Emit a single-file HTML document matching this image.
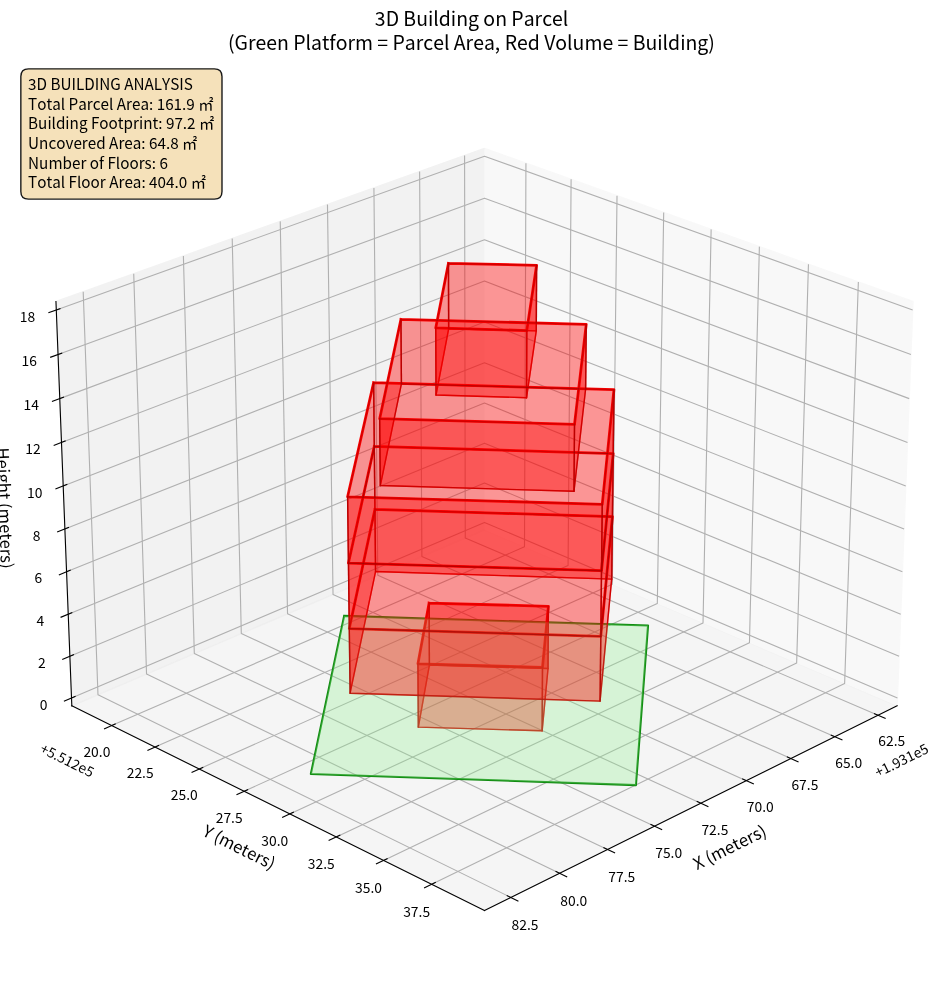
<!DOCTYPE html>
<html lang="en">
<head>
<meta charset="utf-8">
<title>3D Building on Parcel</title>
<style>
html,body{margin:0;padding:0;background:#ffffff;}
body{width:944px;height:992px;overflow:hidden;}
svg{display:block;will-change:transform;}
svg text{font-family:"Noto Sans CJK JP","Liberation Sans",sans-serif;fill:#000000;white-space:pre;font-kerning:none;font-variant-ligatures:none;}
</style>
</head>
<body>
<svg width="944" height="992" viewBox="0 0 679.68 714.24">
 <defs>
  <style type="text/css">*{stroke-linejoin: round; stroke-linecap: butt}</style>
 </defs>
 <g id="figure_1">
  <g id="patch_1">
   <path d="M 0 714.24 L 679.68 714.24 L 679.68 0 L 0 0 z
" style="fill: #ffffff"/>
  </g>
  <g id="patch_2">
   <path d="M 7.2 707.04 L 672.48 707.04 L 672.48 41.76 L 7.2 41.76 z
" style="fill: #ffffff"/>
  </g>
  <g id="pane3d_1">
   <g id="patch_3">
    <path d="M 348.83027 381.448424 L 645.942828 508.214589 L 657.369594 217.112684 L 348.83027 106.825698" style="fill: #f2f2f2; opacity: 0.5; stroke: #f2f2f2; stroke-linejoin: miter"/>
   </g>
  </g>
  <g id="pane3d_2">
   <g id="patch_4">
    <path d="M 348.83027 381.448424 L 51.717712 508.214589 L 40.290947 217.112684 L 348.83027 106.825698" style="fill: #e6e6e6; opacity: 0.5; stroke: #e6e6e6; stroke-linejoin: miter"/>
   </g>
  </g>
  <g id="pane3d_3">
   <g id="patch_5">
    <path d="M 348.83027 381.448424 L 51.717712 508.214589 L 348.83027 655.501782 L 645.942828 508.214589" style="fill: #ececec; opacity: 0.5; stroke: #ececec; stroke-linejoin: miter"/>
   </g>
  </g>
  <g id="grid3d_1">
   <g id="Line3DCollection_1">
    <path d="M 632.178776 515.037823 L 334.992223 387.352571 L 334.496634 111.949238" style="fill: none; stroke: #b0b0b0; stroke-width: 0.8"/>
    <path d="M 601.079953 530.454399 L 303.752812 400.681191 L 302.125308 123.520327" style="fill: none; stroke: #b0b0b0; stroke-width: 0.8"/>
    <path d="M 569.451689 546.133435 L 272.019331 414.22061 L 269.223375 135.281081" style="fill: none; stroke: #b0b0b0; stroke-width: 0.8"/>
    <path d="M 537.280346 562.081689 L 239.779968 427.97587 L 235.777681 147.236201" style="fill: none; stroke: #b0b0b0; stroke-width: 0.8"/>
    <path d="M 504.551816 578.306158 L 207.022527 441.952173 L 201.774634 159.390547" style="fill: none; stroke: #b0b0b0; stroke-width: 0.8"/>
    <path d="M 471.251498 594.814078 L 173.73442 456.154891 L 167.200186 171.749139" style="fill: none; stroke: #b0b0b0; stroke-width: 0.8"/>
    <path d="M 437.364274 611.612944 L 139.902646 470.589569 L 132.039812 184.31717" style="fill: none; stroke: #b0b0b0; stroke-width: 0.8"/>
    <path d="M 402.874492 628.710516 L 105.513776 485.261938 L 96.278488 197.100009" style="fill: none; stroke: #b0b0b0; stroke-width: 0.8"/>
    <path d="M 367.765935 646.114831 L 70.553936 500.177918 L 59.900677 210.103211" style="fill: none; stroke: #b0b0b0; stroke-width: 0.8"/>
   </g>
  </g>
  <g id="grid3d_2">
   <g id="Line3DCollection_2">
    <path d="M 378.672432 117.492741 L 377.636754 393.73901 L 80.37826 522.422442" style="fill: none; stroke: #b0b0b0; stroke-width: 0.8"/>
    <path d="M 411.195186 129.117957 L 409.013807 407.126356 L 111.63185 537.915741" style="fill: none; stroke: #b0b0b0; stroke-width: 0.8"/>
    <path d="M 444.251447 140.933875 L 440.887428 420.725568 L 143.418015 553.673052" style="fill: none; stroke: #b0b0b0; stroke-width: 0.8"/>
    <path d="M 477.854453 152.945227 L 473.269498 434.541716 L 175.750487 569.701183" style="fill: none; stroke: #b0b0b0; stroke-width: 0.8"/>
    <path d="M 512.017881 165.1569 L 506.172283 448.580031 L 208.64347 586.007176" style="fill: none; stroke: #b0b0b0; stroke-width: 0.8"/>
    <path d="M 546.755869 177.573949 L 539.608443 462.845917 L 242.111668 602.598319" style="fill: none; stroke: #b0b0b0; stroke-width: 0.8"/>
    <path d="M 582.083034 190.201599 L 573.591054 477.344951 L 276.170303 619.482158" style="fill: none; stroke: #b0b0b0; stroke-width: 0.8"/>
    <path d="M 618.014493 203.045253 L 608.133623 492.082898 L 310.835138 636.666508" style="fill: none; stroke: #b0b0b0; stroke-width: 0.8"/>
   </g>
  </g>
  <g id="grid3d_3">
   <g id="Line3DCollection_3">
    <path d="M 51.497478 502.604015 L 348.83027 376.141555 L 646.163063 502.604015" style="fill: none; stroke: #b0b0b0; stroke-width: 0.8"/>
    <path d="M 50.317357 472.539917 L 348.83027 347.71419 L 647.343184 472.539917" style="fill: none; stroke: #b0b0b0; stroke-width: 0.8"/>
    <path d="M 49.127831 442.236218 L 348.83027 319.076178 L 648.53271 442.236218" style="fill: none; stroke: #b0b0b0; stroke-width: 0.8"/>
    <path d="M 47.928787 411.690042 L 348.83027 290.22517 L 649.731754 411.690042" style="fill: none; stroke: #b0b0b0; stroke-width: 0.8"/>
    <path d="M 46.72011 380.898468 L 348.83027 261.158781 L 650.94043 380.898468" style="fill: none; stroke: #b0b0b0; stroke-width: 0.8"/>
    <path d="M 45.501684 349.858525 L 348.83027 231.874589 L 652.158856 349.858525" style="fill: none; stroke: #b0b0b0; stroke-width: 0.8"/>
    <path d="M 44.27339 318.567197 L 348.83027 202.370137 L 653.38715 318.567197" style="fill: none; stroke: #b0b0b0; stroke-width: 0.8"/>
    <path d="M 43.035108 287.021417 L 348.83027 172.642932 L 654.625432 287.021417" style="fill: none; stroke: #b0b0b0; stroke-width: 0.8"/>
    <path d="M 41.786716 255.21807 L 348.83027 142.69044 L 655.873824 255.21807" style="fill: none; stroke: #b0b0b0; stroke-width: 0.8"/>
    <path d="M 40.528089 223.153987 L 348.83027 112.510091 L 657.132452 223.153987" style="fill: none; stroke: #b0b0b0; stroke-width: 0.8"/>
   </g>
  </g>
  <g id="axis3d_1">
   <g id="line2d_1">
    <path d="M 645.942828 508.214589 L 348.83027 655.501782" style="fill: none; stroke: #000000; stroke-width: 0.8; stroke-linecap: square"/>
   </g>
   <g id="xtick_1">
    <g id="line2d_2">
     <path d="M 629.624126 513.940226 L 637.297303 517.236982" style="fill: none; stroke: #000000; stroke-width: 0.8; stroke-linecap: square"/>
    </g>
    <g id="text_1">
     <text transform="translate(632.394 537.366)" font-size="10px">62.5</text>
    </g>
   </g>
   <g id="xtick_2">
    <g id="line2d_3">
     <path d="M 598.5226 529.338201 L 606.203976 532.690861" style="fill: none; stroke: #000000; stroke-width: 0.8; stroke-linecap: square"/>
    </g>
    <g id="text_2">
     <text transform="translate(601.342 552.919)" font-size="10px">65.0</text>
    </g>
   </g>
   <g id="xtick_3">
    <g id="line2d_4">
     <path d="M 566.89191 544.998159 L 574.580651 548.408157" style="fill: none; stroke: #000000; stroke-width: 0.8; stroke-linecap: square"/>
    </g>
    <g id="text_3">
     <text transform="translate(569.806 568.738)" font-size="10px">67.5</text>
    </g>
   </g>
   <g id="xtick_4">
    <g id="line2d_5">
     <path d="M 534.718434 560.926843 L 542.413663 564.395662" style="fill: none; stroke: #000000; stroke-width: 0.8; stroke-linecap: square"/>
    </g>
    <g id="text_4">
     <text transform="translate(537.682 584.829)" font-size="10px">70.0</text>
    </g>
   </g>
   <g id="xtick_5">
    <g id="line2d_6">
     <path d="M 501.98808 577.131229 L 509.688869 580.660405" style="fill: none; stroke: #000000; stroke-width: 0.8; stroke-linecap: square"/>
    </g>
    <g id="text_5">
     <text transform="translate(505.001 601.199)" font-size="10px">72.5</text>
    </g>
   </g>
   <g id="xtick_6">
    <g id="line2d_7">
     <path d="M 468.686265 593.61854 L 476.391633 597.209662" style="fill: none; stroke: #000000; stroke-width: 0.8; stroke-linecap: square"/>
    </g>
    <g id="text_6">
     <text transform="translate(471.749 617.855)" font-size="10px">75.0</text>
    </g>
   </g>
   <g id="xtick_7">
    <g id="line2d_8">
     <path d="M 434.79789 610.396249 L 442.506803 614.050962" style="fill: none; stroke: #000000; stroke-width: 0.8; stroke-linecap: square"/>
    </g>
    <g id="text_7">
     <text transform="translate(437.954 634.805)" font-size="10px">77.5</text>
    </g>
   </g>
   <g id="xtick_8">
    <g id="line2d_9">
     <path d="M 400.30732 627.472097 L 408.018686 631.192105" style="fill: none; stroke: #000000; stroke-width: 0.8; stroke-linecap: square"/>
    </g>
    <g id="text_8">
     <text transform="translate(403.422 652.057)" font-size="10px">80.0</text>
    </g>
   </g>
   <g id="xtick_9">
    <g id="line2d_10">
     <path d="M 365.19836 644.854102 L 372.911025 648.641171" style="fill: none; stroke: #000000; stroke-width: 0.8; stroke-linecap: square"/>
    </g>
    <g id="text_9">
     <text transform="translate(368.361 669.619)" font-size="10px">82.5</text>
    </g>
   </g>
   <g id="text_10">
    <text transform="translate(632.116 559.985) rotate(-26.3689)" font-size="10px">+1.931e5</text>
   </g>
   <g id="text_11">
    <text transform="translate(501.896 626.548) rotate(-26.3689)" font-size="12px">X (meters)</text>
   </g>
  </g>
  <g id="axis3d_2">
   <g id="line2d_11">
    <path d="M 51.717712 508.214589 L 348.83027 655.501782" style="fill: none; stroke: #000000; stroke-width: 0.8; stroke-linecap: square"/>
   </g>
   <g id="xtick_10">
    <g id="line2d_12">
     <path d="M 82.934244 521.315955 L 75.257022 524.63943" style="fill: none; stroke: #000000; stroke-width: 0.8; stroke-linecap: square"/>
    </g>
    <g id="text_12">
     <text transform="translate(60.035 544.816)" font-size="10px">20.0</text>
    </g>
   </g>
   <g id="xtick_11">
    <g id="line2d_13">
     <path d="M 114.190398 536.790484 L 106.505395 540.170369" style="fill: none; stroke: #000000; stroke-width: 0.8; stroke-linecap: square"/>
    </g>
    <g id="text_13">
     <text transform="translate(91.241 560.447)" font-size="10px">22.5</text>
    </g>
   </g>
   <g id="xtick_12">
    <g id="line2d_14">
     <path d="M 145.978845 552.528545 L 138.28691 555.966288" style="fill: none; stroke: #000000; stroke-width: 0.8; stroke-linecap: square"/>
    </g>
    <g id="text_14">
     <text transform="translate(122.980 576.345)" font-size="10px">25.0</text>
    </g>
   </g>
   <g id="xtick_13">
    <g id="line2d_15">
     <path d="M 178.313299 568.536927 L 170.615328 572.034026" style="fill: none; stroke: #000000; stroke-width: 0.8; stroke-linecap: square"/>
    </g>
    <g id="text_15">
     <text transform="translate(155.310 592.517)" font-size="10px">27.5</text>
    </g>
   </g>
   <g id="xtick_14">
    <g id="line2d_16">
     <path d="M 211.207949 584.822655 L 203.504889 588.380662" style="fill: none; stroke: #000000; stroke-width: 0.8; stroke-linecap: square"/>
    </g>
    <g id="text_16">
     <text transform="translate(188.156 608.969)" font-size="10px">30.0</text>
    </g>
   </g>
   <g id="xtick_15">
    <g id="line2d_17">
     <path d="M 244.677481 601.393 L 236.970331 605.013519" style="fill: none; stroke: #000000; stroke-width: 0.8; stroke-linecap: square"/>
    </g>
    <g id="text_17">
     <text transform="translate(221.576 625.709)" font-size="10px">32.5</text>
    </g>
   </g>
   <g id="xtick_16">
    <g id="line2d_18">
     <path d="M 278.737098 618.255488 L 271.026911 621.940182" style="fill: none; stroke: #000000; stroke-width: 0.8; stroke-linecap: square"/>
    </g>
    <g id="text_18">
     <text transform="translate(255.588 642.746)" font-size="10px">35.0</text>
    </g>
   </g>
   <g id="xtick_17">
    <g id="line2d_19">
     <path d="M 313.402543 635.417915 L 305.690434 639.168505" style="fill: none; stroke: #000000; stroke-width: 0.8; stroke-linecap: square"/>
    </g>
    <g id="text_19">
     <text transform="translate(290.250 660.085)" font-size="10px">37.5</text>
    </g>
   </g>
   <g id="text_20">
    <text transform="translate(28.130 541.437) rotate(-333.6311)" font-size="10px">+5.512e5</text>
   </g>
   <g id="text_21">
    <text transform="translate(145.004 601.384) rotate(-333.6311)" font-size="12px">Y (meters)</text>
   </g>
  </g>
  <g id="axis3d_3">
   <g id="line2d_20">
    <path d="M 51.717712 508.214589 L 40.290947 217.112684" style="fill: none; stroke: #000000; stroke-width: 0.8; stroke-linecap: square"/>
   </g>
   <g id="xtick_18">
    <g id="line2d_21">
     <path d="M 54.052854 501.517155 L 46.377523 504.781649" style="fill: none; stroke: #000000; stroke-width: 0.8; stroke-linecap: square"/>
    </g>
    <g id="text_22">
     <text transform="translate(28.683 511.028)" font-size="10px">0</text>
    </g>
   </g>
   <g id="xtick_19">
    <g id="line2d_22">
     <path d="M 52.883579 471.466829 L 45.175635 474.689972" style="fill: none; stroke: #000000; stroke-width: 0.8; stroke-linecap: square"/>
    </g>
    <g id="text_23">
     <text transform="translate(27.425 480.964)" font-size="10px">2</text>
    </g>
   </g>
   <g id="xtick_20">
    <g id="line2d_23">
     <path d="M 51.704991 441.177157 L 43.964156 444.358184" style="fill: none; stroke: #000000; stroke-width: 0.8; stroke-linecap: square"/>
    </g>
    <g id="text_24">
     <text transform="translate(26.201 450.660)" font-size="10px">4</text>
    </g>
   </g>
   <g id="xtick_21">
    <g id="line2d_24">
     <path d="M 50.516979 410.645267 L 42.742971 413.7834" style="fill: none; stroke: #000000; stroke-width: 0.8; stroke-linecap: square"/>
    </g>
    <g id="text_25">
     <text transform="translate(24.878 420.114)" font-size="10px">6</text>
    </g>
   </g>
   <g id="xtick_22">
    <g id="line2d_25">
     <path d="M 49.319428 379.868243 L 41.511964 382.962687" style="fill: none; stroke: #000000; stroke-width: 0.8; stroke-linecap: square"/>
    </g>
    <g id="text_26">
     <text transform="translate(23.589 389.322)" font-size="10px">8</text>
    </g>
   </g>
   <g id="xtick_23">
    <g id="line2d_26">
     <path d="M 48.112223 348.843119 L 40.271016 351.893067" style="fill: none; stroke: #000000; stroke-width: 0.8; stroke-linecap: square"/>
    </g>
    <g id="text_27">
     <text transform="translate(19.499 358.283)" font-size="10px">10</text>
    </g>
   </g>
   <g id="xtick_24">
    <g id="line2d_27">
     <path d="M 46.895248 317.566884 L 39.020004 320.571512" style="fill: none; stroke: #000000; stroke-width: 0.8; stroke-linecap: square"/>
    </g>
    <g id="text_28">
     <text transform="translate(18.189 326.991)" font-size="10px">12</text>
    </g>
   </g>
   <g id="xtick_25">
    <g id="line2d_28">
     <path d="M 45.668382 286.036477 L 37.758808 288.994945" style="fill: none; stroke: #000000; stroke-width: 0.8; stroke-linecap: square"/>
    </g>
    <g id="text_29">
     <text transform="translate(16.914 295.445)" font-size="10px">14</text>
    </g>
   </g>
   <g id="xtick_26">
    <g id="line2d_29">
     <path d="M 44.431506 254.248787 L 36.487301 257.160239" style="fill: none; stroke: #000000; stroke-width: 0.8; stroke-linecap: square"/>
    </g>
    <g id="text_30">
     <text transform="translate(15.538 263.642)" font-size="10px">16</text>
    </g>
   </g>
   <g id="xtick_27">
    <g id="line2d_30">
     <path d="M 43.184495 222.200652 L 35.205357 225.064216" style="fill: none; stroke: #000000; stroke-width: 0.8; stroke-linecap: square"/>
    </g>
    <g id="text_31">
     <text transform="translate(14.196 231.578)" font-size="10px">18</text>
    </g>
   </g>
   <g id="text_32">
    <text transform="translate(-2.600 322.383) rotate(-272.2479)" font-size="12px">Height (meters)</text>
   </g>
  </g>
  <g id="axes_1">
   <g id="line2d_31">
    <path d="M 247.77924 443.458365 L 466.586819 450.407908 L 457.856153 565.292145 L 223.796916 557.281267 L 247.77924 443.458365" clip-path="url(#p9a612d91c3)" style="fill: none; stroke: #128c12; stroke-width: 1.5; stroke-linecap: square"/>
   </g>
   <g id="line2d_32">
    <path d="M 308.937394 434.182432 L 394.846916 436.552592 L 390.59386 480.549624 L 300.919672 477.938487 L 308.937394 434.182432" clip-path="url(#p9a612d91c3)" style="fill: none; stroke: #ff0000; stroke-width: 2; stroke-linecap: square"/>
   </g>
   <g id="line2d_33">
    <path d="M 309.17087 478.914165 L 394.577237 481.330813 L 390.342983 526.183823 L 301.207058 523.522254 L 309.17087 478.914165" clip-path="url(#p9a612d91c3)" style="fill: none; stroke: #ff0000; stroke-linecap: square"/>
   </g>
   <g id="line2d_34">
    <path d="M 309.17087 478.914165 L 308.937394 434.182432" clip-path="url(#p9a612d91c3)" style="fill: none; stroke: #ff0000; stroke-linecap: square"/>
   </g>
   <g id="line2d_35">
    <path d="M 394.577237 481.330813 L 394.846916 436.552592" clip-path="url(#p9a612d91c3)" style="fill: none; stroke: #ff0000; stroke-linecap: square"/>
   </g>
   <g id="line2d_36">
    <path d="M 390.342983 526.183823 L 390.59386 480.549624" clip-path="url(#p9a612d91c3)" style="fill: none; stroke: #ff0000; stroke-linecap: square"/>
   </g>
   <g id="line2d_37">
    <path d="M 301.207058 523.522254 L 300.919672 477.938487" clip-path="url(#p9a612d91c3)" style="fill: none; stroke: #ff0000; stroke-linecap: square"/>
   </g>
   <g id="line2d_38">
    <path d="M 269.945938 366.717869 L 440.949953 372.024265 L 432.565891 458.157274 L 251.485466 452.539488 L 269.945938 366.717869" clip-path="url(#p9a612d91c3)" style="fill: none; stroke: #ff0000; stroke-width: 2; stroke-linecap: square"/>
   </g>
   <g id="line2d_39">
    <path d="M 270.404303 411.520837 L 440.413 416.937142 L 432.052989 504.826361 L 252.079846 499.095628 L 270.404303 411.520837" clip-path="url(#p9a612d91c3)" style="fill: none; stroke: #ff0000; stroke-linecap: square"/>
   </g>
   <g id="line2d_40">
    <path d="M 270.404303 411.520837 L 269.945938 366.717869" clip-path="url(#p9a612d91c3)" style="fill: none; stroke: #ff0000; stroke-linecap: square"/>
   </g>
   <g id="line2d_41">
    <path d="M 440.413 416.937142 L 440.949953 372.024265" clip-path="url(#p9a612d91c3)" style="fill: none; stroke: #ff0000; stroke-linecap: square"/>
   </g>
   <g id="line2d_42">
    <path d="M 432.052989 504.826361 L 432.565891 458.157274" clip-path="url(#p9a612d91c3)" style="fill: none; stroke: #ff0000; stroke-linecap: square"/>
   </g>
   <g id="line2d_43">
    <path d="M 252.079846 499.095628 L 251.485466 452.539488" clip-path="url(#p9a612d91c3)" style="fill: none; stroke: #ff0000; stroke-linecap: square"/>
   </g>
   <g id="line2d_44">
    <path d="M 269.482184 321.388115 L 441.493238 326.58163 L 433.085154 410.909377 L 250.883738 405.407782 L 269.482184 321.388115" clip-path="url(#p9a612d91c3)" style="fill: none; stroke: #ff0000; stroke-width: 2; stroke-linecap: square"/>
   </g>
   <g id="line2d_45">
    <path d="M 269.945938 366.717869 L 440.949953 372.024265 L 432.565891 458.157274 L 251.485466 452.539488 L 269.945938 366.717869" clip-path="url(#p9a612d91c3)" style="fill: none; stroke: #ff0000; stroke-linecap: square"/>
   </g>
   <g id="line2d_46">
    <path d="M 269.945938 366.717869 L 269.482184 321.388115" clip-path="url(#p9a612d91c3)" style="fill: none; stroke: #ff0000; stroke-linecap: square"/>
   </g>
   <g id="line2d_47">
    <path d="M 440.949953 372.024265 L 441.493238 326.58163" clip-path="url(#p9a612d91c3)" style="fill: none; stroke: #ff0000; stroke-linecap: square"/>
   </g>
   <g id="line2d_48">
    <path d="M 432.565891 458.157274 L 433.085154 410.909377" clip-path="url(#p9a612d91c3)" style="fill: none; stroke: #ff0000; stroke-linecap: square"/>
   </g>
   <g id="line2d_49">
    <path d="M 251.485466 452.539488 L 250.883738 405.407782" clip-path="url(#p9a612d91c3)" style="fill: none; stroke: #ff0000; stroke-linecap: square"/>
   </g>
   <g id="line2d_50">
    <path d="M 269.012945 275.52223 L 442.04297 280.599809 L 433.610897 363.071834 L 250.274524 357.689772 L 269.012945 275.52223" clip-path="url(#p9a612d91c3)" style="fill: none; stroke: #ff0000; stroke-width: 2; stroke-linecap: square"/>
   </g>
   <g id="line2d_51">
    <path d="M 269.482184 321.388115 L 441.493238 326.58163 L 433.085154 410.909377 L 250.883738 405.407782 L 269.482184 321.388115" clip-path="url(#p9a612d91c3)" style="fill: none; stroke: #ff0000; stroke-linecap: square"/>
   </g>
   <g id="line2d_52">
    <path d="M 269.482184 321.388115 L 269.012945 275.52223" clip-path="url(#p9a612d91c3)" style="fill: none; stroke: #ff0000; stroke-linecap: square"/>
   </g>
   <g id="line2d_53">
    <path d="M 441.493238 326.58163 L 442.04297 280.599809" clip-path="url(#p9a612d91c3)" style="fill: none; stroke: #ff0000; stroke-linecap: square"/>
   </g>
   <g id="line2d_54">
    <path d="M 433.085154 410.909377 L 433.610897 363.071834" clip-path="url(#p9a612d91c3)" style="fill: none; stroke: #ff0000; stroke-linecap: square"/>
   </g>
   <g id="line2d_55">
    <path d="M 250.883738 405.407782 L 250.274524 357.689772" clip-path="url(#p9a612d91c3)" style="fill: none; stroke: #ff0000; stroke-linecap: square"/>
   </g>
   <g id="line2d_56">
    <path d="M 288.666962 229.922989 L 422.08244 233.563357 L 413.64961 305.516424 L 273.365436 301.473513 L 288.666962 229.922989" clip-path="url(#p9a612d91c3)" style="fill: none; stroke: #ff0000; stroke-width: 2; stroke-linecap: square"/>
   </g>
   <g id="line2d_57">
    <path d="M 289.022935 276.354094 L 421.648006 280.081879 L 413.247396 353.7414 L 273.832542 349.603685 L 289.022935 276.354094" clip-path="url(#p9a612d91c3)" style="fill: none; stroke: #ff0000; stroke-linecap: square"/>
   </g>
   <g id="line2d_58">
    <path d="M 289.022935 276.354094 L 288.666962 229.922989" clip-path="url(#p9a612d91c3)" style="fill: none; stroke: #ff0000; stroke-linecap: square"/>
   </g>
   <g id="line2d_59">
    <path d="M 421.648006 280.081879 L 422.08244 233.563357" clip-path="url(#p9a612d91c3)" style="fill: none; stroke: #ff0000; stroke-linecap: square"/>
   </g>
   <g id="line2d_60">
    <path d="M 413.247396 353.7414 L 413.64961 305.516424" clip-path="url(#p9a612d91c3)" style="fill: none; stroke: #ff0000; stroke-linecap: square"/>
   </g>
   <g id="line2d_61">
    <path d="M 273.832542 349.603685 L 273.365436 301.473513" clip-path="url(#p9a612d91c3)" style="fill: none; stroke: #ff0000; stroke-linecap: square"/>
   </g>
   <g id="line2d_62">
    <path d="M 322.879985 189.582995 L 386.346389 191.018372 L 379.296678 237.994141 L 313.72666 236.090138 L 322.879985 189.582995" clip-path="url(#p9a612d91c3)" style="fill: none; stroke: #ff0000; stroke-width: 2; stroke-linecap: square"/>
   </g>
   <g id="line2d_63">
    <path d="M 323.035124 236.738134 L 386.121893 238.209744 L 379.108703 286.362013 L 313.942982 284.410675 L 323.035124 236.738134" clip-path="url(#p9a612d91c3)" style="fill: none; stroke: #ff0000; stroke-linecap: square"/>
   </g>
   <g id="line2d_64">
    <path d="M 323.035124 236.738134 L 322.879985 189.582995" clip-path="url(#p9a612d91c3)" style="fill: none; stroke: #ff0000; stroke-linecap: square"/>
   </g>
   <g id="line2d_65">
    <path d="M 386.121893 238.209744 L 386.346389 191.018372" clip-path="url(#p9a612d91c3)" style="fill: none; stroke: #ff0000; stroke-linecap: square"/>
   </g>
   <g id="line2d_66">
    <path d="M 379.108703 286.362013 L 379.296678 237.994141" clip-path="url(#p9a612d91c3)" style="fill: none; stroke: #ff0000; stroke-linecap: square"/>
   </g>
   <g id="line2d_67">
    <path d="M 313.942982 284.410675 L 313.72666 236.090138" clip-path="url(#p9a612d91c3)" style="fill: none; stroke: #ff0000; stroke-linecap: square"/>
   </g>
   <g id="Poly3DCollection_1">
    <path d="M 309.17087 478.914165 L 394.577237 481.330813 L 394.846916 436.552592 L 308.937394 434.182432 z
" clip-path="url(#p9a612d91c3)" style="fill: #ff0000; fill-opacity: 0.4; stroke: #8b0000; stroke-opacity: 0.4"/>
    <path d="M 301.207058 523.522254 L 309.17087 478.914165 L 308.937394 434.182432 L 300.919672 477.938487 z
" clip-path="url(#p9a612d91c3)" style="fill: #ff0000; fill-opacity: 0.4; stroke: #8b0000; stroke-opacity: 0.4"/>
    <path d="M 394.577237 481.330813 L 390.342983 526.183823 L 390.59386 480.549624 L 394.846916 436.552592 z
" clip-path="url(#p9a612d91c3)" style="fill: #ff0000; fill-opacity: 0.4; stroke: #8b0000; stroke-opacity: 0.4"/>
    <path d="M 390.342983 526.183823 L 301.207058 523.522254 L 300.919672 477.938487 L 390.59386 480.549624 z
" clip-path="url(#p9a612d91c3)" style="fill: #ff0000; fill-opacity: 0.4; stroke: #8b0000; stroke-opacity: 0.4"/>
   </g>
   <g id="text_33">
    <g id="patch_6">
     <path d="M 20.506 143.366 L 154.336 143.366 Q 159.836 143.366 159.836 137.866 L 159.836 55.066 Q 159.836 49.566 154.336 49.566 L 20.506 49.566 Q 15.006 49.566 15.006 55.066 L 15.006 137.866 Q 15.006 143.366 20.506 143.366 z" style="fill: #f5deb3; opacity: 0.9; stroke: #000000; stroke-linejoin: miter"/>
    </g>
    <text transform="translate(20.218 64.930)" font-size="11px">3D BUILDING ANALYSIS</text>
    <text transform="translate(20.218 79.042)" font-size="11px">Total Parcel Area: 161.9 ㎡</text>
    <text transform="translate(20.218 93.154)" font-size="11px">Building Footprint: 97.2 ㎡</text>
    <text transform="translate(20.218 107.266)" font-size="11px">Uncovered Area: 64.8 ㎡</text>
    <text transform="translate(20.218 121.378)" font-size="11px">Number of Floors: 6</text>
    <text transform="translate(20.218 135.490)" font-size="11px">Total Floor Area: 404.0 ㎡</text>
   </g>
   <g id="text_34">
    <text transform="translate(269.892 18.705)" font-size="14px">3D Building on Parcel</text>
    <text transform="translate(164.142 36.264)" font-size="14px">(Green Platform = Parcel Area, Red Volume = Building)</text>
   </g>
   <g id="Poly3DCollection_2">
    <path d="M 247.77924 443.458365 L 466.586819 450.407908 L 457.856153 565.292145 L 223.796916 557.281267 z
" clip-path="url(#p9a612d91c3)" style="fill: #90ee90; fill-opacity: 0.3"/>
   </g>
   <g id="Poly3DCollection_3">
    <path d="M 270.404303 411.520837 L 440.413 416.937142 L 440.949953 372.024265 L 269.945938 366.717869 z
" clip-path="url(#p9a612d91c3)" style="fill: #ff0000; fill-opacity: 0.4; stroke: #8b0000; stroke-opacity: 0.4"/>
    <path d="M 252.079846 499.095628 L 270.404303 411.520837 L 269.945938 366.717869 L 251.485466 452.539488 z
" clip-path="url(#p9a612d91c3)" style="fill: #ff0000; fill-opacity: 0.4; stroke: #8b0000; stroke-opacity: 0.4"/>
    <path d="M 440.413 416.937142 L 432.052989 504.826361 L 432.565891 458.157274 L 440.949953 372.024265 z
" clip-path="url(#p9a612d91c3)" style="fill: #ff0000; fill-opacity: 0.4; stroke: #8b0000; stroke-opacity: 0.4"/>
    <path d="M 432.052989 504.826361 L 252.079846 499.095628 L 251.485466 452.539488 L 432.565891 458.157274 z
" clip-path="url(#p9a612d91c3)" style="fill: #ff0000; fill-opacity: 0.4; stroke: #8b0000; stroke-opacity: 0.4"/>
   </g>
   <g id="Poly3DCollection_4">
    <path d="M 269.945938 366.717869 L 440.949953 372.024265 L 441.493238 326.58163 L 269.482184 321.388115 z
" clip-path="url(#p9a612d91c3)" style="fill: #ff0000; fill-opacity: 0.4; stroke: #8b0000; stroke-opacity: 0.4"/>
    <path d="M 251.485466 452.539488 L 269.945938 366.717869 L 269.482184 321.388115 L 250.883738 405.407782 z
" clip-path="url(#p9a612d91c3)" style="fill: #ff0000; fill-opacity: 0.4; stroke: #8b0000; stroke-opacity: 0.4"/>
    <path d="M 440.949953 372.024265 L 432.565891 458.157274 L 433.085154 410.909377 L 441.493238 326.58163 z
" clip-path="url(#p9a612d91c3)" style="fill: #ff0000; fill-opacity: 0.4; stroke: #8b0000; stroke-opacity: 0.4"/>
    <path d="M 432.565891 458.157274 L 251.485466 452.539488 L 250.883738 405.407782 L 433.085154 410.909377 z
" clip-path="url(#p9a612d91c3)" style="fill: #ff0000; fill-opacity: 0.4; stroke: #8b0000; stroke-opacity: 0.4"/>
   </g>
   <g id="Poly3DCollection_5">
    <path d="M 323.035124 236.738134 L 386.121893 238.209744 L 386.346389 191.018372 L 322.879985 189.582995 z
" clip-path="url(#p9a612d91c3)" style="fill: #ff0000; fill-opacity: 0.4; stroke: #8b0000; stroke-opacity: 0.4"/>
    <path d="M 313.942982 284.410675 L 323.035124 236.738134 L 322.879985 189.582995 L 313.72666 236.090138 z
" clip-path="url(#p9a612d91c3)" style="fill: #ff0000; fill-opacity: 0.4; stroke: #8b0000; stroke-opacity: 0.4"/>
    <path d="M 386.121893 238.209744 L 379.108703 286.362013 L 379.296678 237.994141 L 386.346389 191.018372 z
" clip-path="url(#p9a612d91c3)" style="fill: #ff0000; fill-opacity: 0.4; stroke: #8b0000; stroke-opacity: 0.4"/>
    <path d="M 379.108703 286.362013 L 313.942982 284.410675 L 313.72666 236.090138 L 379.296678 237.994141 z
" clip-path="url(#p9a612d91c3)" style="fill: #ff0000; fill-opacity: 0.4; stroke: #8b0000; stroke-opacity: 0.4"/>
   </g>
   <g id="Poly3DCollection_6">
    <path d="M 269.482184 321.388115 L 441.493238 326.58163 L 442.04297 280.599809 L 269.012945 275.52223 z
" clip-path="url(#p9a612d91c3)" style="fill: #ff0000; fill-opacity: 0.4; stroke: #8b0000; stroke-opacity: 0.4"/>
    <path d="M 250.883738 405.407782 L 269.482184 321.388115 L 269.012945 275.52223 L 250.274524 357.689772 z
" clip-path="url(#p9a612d91c3)" style="fill: #ff0000; fill-opacity: 0.4; stroke: #8b0000; stroke-opacity: 0.4"/>
    <path d="M 441.493238 326.58163 L 433.085154 410.909377 L 433.610897 363.071834 L 442.04297 280.599809 z
" clip-path="url(#p9a612d91c3)" style="fill: #ff0000; fill-opacity: 0.4; stroke: #8b0000; stroke-opacity: 0.4"/>
    <path d="M 433.085154 410.909377 L 250.883738 405.407782 L 250.274524 357.689772 L 433.610897 363.071834 z
" clip-path="url(#p9a612d91c3)" style="fill: #ff0000; fill-opacity: 0.4; stroke: #8b0000; stroke-opacity: 0.4"/>
   </g>
   <g id="Poly3DCollection_7">
    <path d="M 289.022935 276.354094 L 421.648006 280.081879 L 422.08244 233.563357 L 288.666962 229.922989 z
" clip-path="url(#p9a612d91c3)" style="fill: #ff0000; fill-opacity: 0.4; stroke: #8b0000; stroke-opacity: 0.4"/>
    <path d="M 273.832542 349.603685 L 289.022935 276.354094 L 288.666962 229.922989 L 273.365436 301.473513 z
" clip-path="url(#p9a612d91c3)" style="fill: #ff0000; fill-opacity: 0.4; stroke: #8b0000; stroke-opacity: 0.4"/>
    <path d="M 421.648006 280.081879 L 413.247396 353.7414 L 413.64961 305.516424 L 422.08244 233.563357 z
" clip-path="url(#p9a612d91c3)" style="fill: #ff0000; fill-opacity: 0.4; stroke: #8b0000; stroke-opacity: 0.4"/>
    <path d="M 413.247396 353.7414 L 273.832542 349.603685 L 273.365436 301.473513 L 413.64961 305.516424 z
" clip-path="url(#p9a612d91c3)" style="fill: #ff0000; fill-opacity: 0.4; stroke: #8b0000; stroke-opacity: 0.4"/>
   </g>
  </g>
 </g>
 <defs>
  <clipPath id="p9a612d91c3">
   <rect x="7.2" y="41.76" width="665.28" height="665.28"/>
  </clipPath>
 </defs>
</svg>

</body>
</html>
